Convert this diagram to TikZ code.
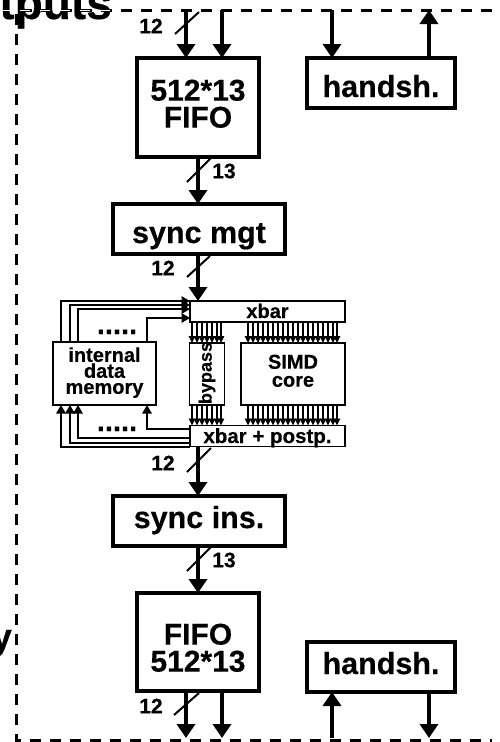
\documentclass[tikz,border=0pt]{standalone}
\usepackage{fontspec}
\setmainfont{Liberation Sans}[BoldFeatures={FakeBold=0.35}]
\usetikzlibrary{arrows.meta}
\newcommand{\tblock}[4]{\raisebox{#1pt}{\makebox[0pt]{\parbox{200pt}{\centering\fontsize{#2}{#3}\selectfont\lineskiplimit=-100pt #4}}}}
\tikzset{
 box/.style={draw,line width=3.3pt,outer sep=0pt,inner sep=0pt,text height=0pt,text depth=0pt,font=\fontsize{30.5}{27}\bfseries\selectfont},
 thinbox/.style={draw,line width=1.4pt,outer sep=0pt,inner sep=0pt,text height=0pt,text depth=0pt,font=\fontsize{20}{18}\bfseries\selectfont},
 lab/.style={inner sep=0pt,font=\fontsize{21}{21}\bfseries\selectfont},
 big/.style={line width=4.4pt,-{Triangle[length=14pt,width=18pt]}},
 feed/.style={line width=1.4pt,-{Triangle[length=8.5pt,width=9.5pt]}},
 bus/.style={line width=1.3pt,-{Triangle[length=7pt,width=6.5pt]}},
 slash/.style={line width=2pt},
 frame/.style={line width=3pt,dash pattern=on 11pt off 9pt},
 dotrow/.style={anchor=base,inner sep=0pt,font=\fontsize{29}{29}\bfseries\selectfont}
}
\begin{document}
\begin{tikzpicture}[x=1pt,y=-1pt]
\useasboundingbox (0,0) rectangle (499,742);
\fill[white] (0,0) rectangle (499,742);
% frame
\coordinate (ftl) at (16,10);
\coordinate (fbl) at (16,740);
\coordinate (ftr) at (492,10);
\coordinate (fbr) at (492,740);
\draw[frame] (ftr) -- (ftl) -- (fbl) -- (fbr);
\node[anchor=base east,inner sep=0pt,font=\fontsize{46}{46}\bfseries\selectfont] (title) at (112,19) {tputs};
\node[anchor=base east,inner sep=0pt,font=\fontsize{36}{36}\bfseries\selectfont] (ylab) at (12,649) {y};
\coordinate (wa) at (0,10); \coordinate (wb) at (120,10);
\draw[white,line width=0.8pt,dash pattern=on 10pt off 10pt] (wa) -- (wb);
% main boxes
\node[box,minimum width=122pt,minimum height=99pt] (fifoA) at (198,107.5) {\tblock{-2.5}{30}{27}{512*13\\FIFO}};
\node[box,minimum width=148pt,minimum height=50pt] (hsA) at (381,83) {\raisebox{-14pt}{handsh.}};
\node[box,minimum width=172pt,minimum height=50pt] (mgt) at (199,229) {\raisebox{-14pt}{sync mgt}};
\node[box,minimum width=172pt,minimum height=50pt] (ins) at (199,521) {\raisebox{-7pt}{sync ins.}};
\node[box,minimum width=122pt,minimum height=98pt] (fifoB) at (198,642) {\tblock{-12}{30}{27}{FIFO\\512*13}};
\node[box,minimum width=148pt,minimum height=50pt] (hsB) at (381,667) {\raisebox{-7pt}{handsh.}};
% core
\node[thinbox,minimum width=155pt,minimum height=21pt] (xbar) at (267.5,311.5) {\raisebox{-6.5pt}{xbar}};
\node[thinbox,minimum width=155pt,minimum height=21pt,font=\fontsize{20.5}{18}\bfseries\selectfont] (post) at (267.5,436) {\raisebox{-7pt}{xbar + postp.}};
\node[thinbox,minimum width=35pt,minimum height=62pt,font=\fontsize{18}{18}\bfseries\selectfont] (byp) at (207,374) {\raisebox{-30pt}{\rotatebox{90}{bypass}}};
\node[thinbox,minimum width=104pt,minimum height=62pt] (simd) at (293,374) {\tblock{-2}{20}{18}{SIMD\\core}};
\node[thinbox,minimum width=103pt,minimum height=63pt] (mem) at (104.5,373.5) {\tblock{-4.3}{20}{16}{internal\\data\\memory}};
\node[dotrow] (dotsA) at (117,334) {.....};
\node[dotrow] (dotsB) at (117,431) {.....};
% top arrows
\coordinate (a1) at (186,10); \coordinate (a2) at (222,10);
\coordinate (a3) at (332,10); \coordinate (a4) at (429,10);
\draw[big] (a1) -- (a1 |- fifoA.north);
\draw[big] (a2) -- (a2 |- fifoA.north);
\draw[big] (a3) -- (a3 |- hsA.north);
\draw[big] (a4 |- hsA.north) -- (a4);
% bottom arrows
\coordinate (b1) at (186,738); \coordinate (b2) at (222,738);
\coordinate (b3) at (332,738); \coordinate (b4) at (429,738);
\draw[big] (b1 |- fifoB.south) -- (b1);
\draw[big] (b2 |- fifoB.south) -- (b2);
\draw[big] (b3) -- (b3 |- hsB.south);
\draw[big] (b4 |- hsB.south) -- (b4);
% vertical chain
\coordinate (c) at (198,0);
\draw[big] (c |- fifoA.south) -- (c |- mgt.north);
\draw[big] (c |- mgt.south) -- (c |- xbar.north);
\draw[big] (c |- post.south) -- (c |- ins.north);
\draw[big] (c |- ins.south) -- (c |- fifoB.north);
% slashes
\coordinate (s1a) at (175,34); \coordinate (s1b) at (199,12);
\coordinate (s2a) at (187,182); \coordinate (s2b) at (211,158);
\coordinate (s3a) at (187,277); \coordinate (s3b) at (210,256);
\coordinate (s4a) at (187,472); \coordinate (s4b) at (211,448);
\coordinate (s5a) at (187,571); \coordinate (s5b) at (211,547);
\coordinate (s6a) at (174,715); \coordinate (s6b) at (199,693);
\foreach \i in {1,...,6} \draw[slash] (s\i a) -- (s\i b);
\node[lab] (l1) at (151,26) {12};
\node[lab] (l2) at (224,171) {13};
\node[lab] (l3) at (163,268) {12};
\node[lab] (l4) at (163,463) {12};
\node[lab] (l5) at (224,560) {13};
\node[lab] (l6) at (151,706) {12};
% feedback
\coordinate (f1) at (61,0); \coordinate (f2) at (70,0); \coordinate (f3) at (78,0); \coordinate (f4) at (147,0);
\coordinate (t1) at (0,301); \coordinate (t2) at (0,305); \coordinate (t3) at (0,309); \coordinate (t4) at (0,318);
\coordinate (u1) at (0,447); \coordinate (u2) at (0,443); \coordinate (u3) at (0,438); \coordinate (u4) at (0,429);
\foreach \i in {1,2,3,4} {
 \draw[feed] (f\i |- mem.north) -- (f\i |- t\i) -- (xbar.west |- t\i);
 \draw[feed] (post.west |- u\i) -- (f\i |- u\i) -- (f\i |- mem.south);
}
% buses
\foreach \x in {192,197,202,207,212,217,221} {
 \coordinate (p) at (\x,0);
 \draw[bus] (p |- xbar.south) -- (p |- byp.north);
 \draw[bus] (p |- byp.south) -- (p |- post.north);
}
\foreach \x in {248,253,258,263,268,273,278,283,288,293,298,303,308,313,318,323,328,333,337} {
 \coordinate (p) at (\x,0);
 \draw[bus] (p |- xbar.south) -- (p |- simd.north);
 \draw[bus] (p |- simd.south) -- (p |- post.north);
}
\end{tikzpicture}
\end{document}
